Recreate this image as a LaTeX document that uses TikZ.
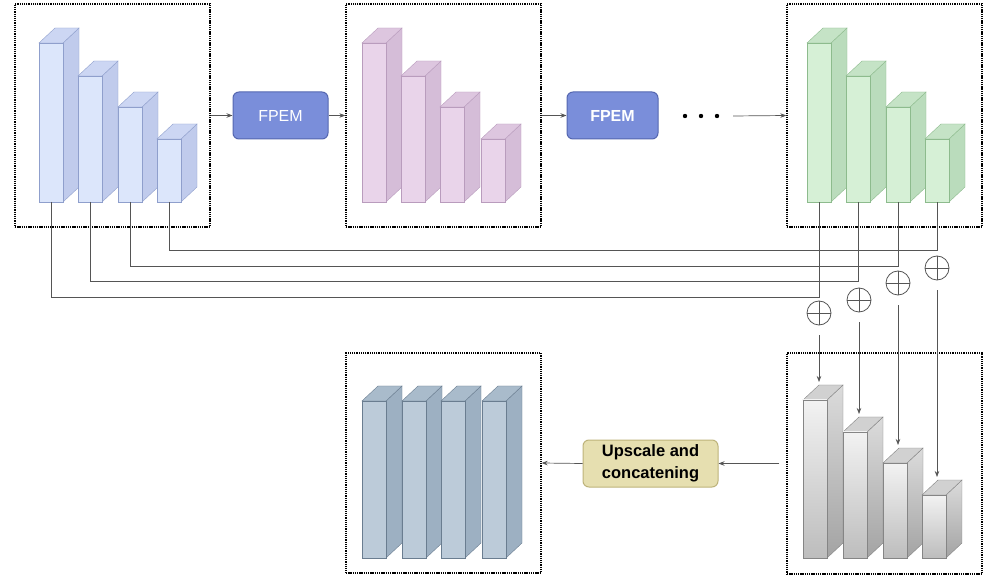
\documentclass[tikz,border=0pt]{standalone}
\usepackage{fontspec}
\setmainfont{Liberation Sans}
\usetikzlibrary{arrows.meta}

\definecolor{bluefront}{HTML}{DCE6FB}
\definecolor{bluetop}{HTML}{CCD6F3}
\definecolor{blueside}{HTML}{C0CBEC}
\definecolor{blueedge}{HTML}{8F9FCC}
\definecolor{pinkfront}{HTML}{E9D4EA}
\definecolor{pinktop}{HTML}{DDC6DF}
\definecolor{pinkside}{HTML}{D5BDD8}
\definecolor{pinkedge}{HTML}{B99CBD}
\definecolor{greenfront}{HTML}{D6F0D6}
\definecolor{greentop}{HTML}{C5E3C6}
\definecolor{greenside}{HTML}{BADCBC}
\definecolor{greenedge}{HTML}{8DBB8D}
\definecolor{steelfront}{HTML}{BCCBD9}
\definecolor{steeltop}{HTML}{A9BBCB}
\definecolor{steelside}{HTML}{9DB0C2}
\definecolor{steeledge}{HTML}{6A7D90}
\definecolor{grayedge}{HTML}{858585}
\definecolor{fpemfill}{HTML}{7A8EDA}
\definecolor{fpemedge}{HTML}{5567B0}
\definecolor{upfill}{HTML}{E6DFB0}
\definecolor{upedge}{HTML}{BDB37A}
\definecolor{wire}{HTML}{555555}

% one 3-D bar: #1 name, #2 left x, #3 top y, #4 bottom y,
% #5 front style, #6 side style, #7 top style, #8 edge colour
\newcommand\prism[8]{%
  \draw[draw=#8,#6] (#2+24,#3) -- (#2+40,#3-15) -- (#2+40,#4-15) -- (#2+24,#4) -- cycle;
  \draw[draw=#8,#7] (#2,#3) -- (#2+16,#3-15) -- (#2+40,#3-15) -- (#2+24,#3) -- cycle;
  \draw[draw=#8,#5] (#2,#3) rectangle (#2+24,#4);
  \coordinate (#1-b) at (#2+12,#4);
  \coordinate (#1-t) at (#2+16,#3-18);
}

\tikzset{
  dbox/.style={draw=black, line width=1.3pt, dash pattern=on 1.3pt off 0.9pt,
               minimum width=195pt, inner sep=0pt},
  block/.style={rounded corners=6pt, line width=1pt, inner sep=0pt, align=center},
  arr/.style={draw=wire, line width=0.7pt, -{Stealth[length=6pt,width=4.5pt]}},
  conn/.style={draw=wire, line width=0.8pt},
  plus/.style={circle, draw=wire, line width=0.8pt, minimum size=24pt, inner sep=0pt},
  grayfront/.style={top color=black!5, bottom color=black!26},
  grayside/.style={top color=black!14, bottom color=black!36},
}

\begin{document}
\begin{tikzpicture}[x=1pt,y=-1pt]
\useasboundingbox (0,0) rectangle (986,577);

% dotted frames
\node[dbox, minimum height=223pt] (B1) at (112.5,115.5) {};
\node[dbox, minimum height=223pt] (B2) at (443.5,115.5) {};
\node[dbox, minimum height=223pt] (B3) at (884.5,115.5) {};
\node[dbox, minimum height=221pt] (B4) at (884.5,463.5) {};
\node[dbox, minimum height=220pt] (B5) at (443.5,463) {};

% input pyramid
\prism{a1}{39}{43}{202}{fill=bluefront}{fill=blueside}{fill=bluetop}{blueedge}
\prism{a2}{78}{76}{202}{fill=bluefront}{fill=blueside}{fill=bluetop}{blueedge}
\prism{a3}{118}{107}{202}{fill=bluefront}{fill=blueside}{fill=bluetop}{blueedge}
\prism{a4}{157}{139}{202}{fill=bluefront}{fill=blueside}{fill=bluetop}{blueedge}

% after first FPEM
\prism{m1}{362}{43}{202}{fill=pinkfront}{fill=pinkside}{fill=pinktop}{pinkedge}
\prism{m2}{401}{76}{202}{fill=pinkfront}{fill=pinkside}{fill=pinktop}{pinkedge}
\prism{m3}{440}{107}{202}{fill=pinkfront}{fill=pinkside}{fill=pinktop}{pinkedge}
\prism{m4}{481}{139}{202}{fill=pinkfront}{fill=pinkside}{fill=pinktop}{pinkedge}

% after last FPEM
\prism{c1}{807}{43}{202}{fill=greenfront}{fill=greenside}{fill=greentop}{greenedge}
\prism{c2}{846}{76}{202}{fill=greenfront}{fill=greenside}{fill=greentop}{greenedge}
\prism{c3}{886}{107}{202}{fill=greenfront}{fill=greenside}{fill=greentop}{greenedge}
\prism{c4}{925}{139}{202}{fill=greenfront}{fill=greenside}{fill=greentop}{greenedge}

% fused pyramid
\prism{g1}{803}{400}{558}{grayfront}{grayside}{fill=black!18}{grayedge}
\prism{g2}{843}{432}{558}{grayfront}{grayside}{fill=black!18}{grayedge}
\prism{g3}{883}{463}{558}{grayfront}{grayside}{fill=black!18}{grayedge}
\prism{g4}{922}{495}{558}{grayfront}{grayside}{fill=black!18}{grayedge}

% concatenated maps
\prism{s1}{362}{401}{558}{fill=steelfront}{fill=steelside}{fill=steeltop}{steeledge}
\prism{s2}{402}{401}{558}{fill=steelfront}{fill=steelside}{fill=steeltop}{steeledge}
\prism{s3}{441}{401}{558}{fill=steelfront}{fill=steelside}{fill=steeltop}{steeledge}
\prism{s4}{482}{401}{558}{fill=steelfront}{fill=steelside}{fill=steeltop}{steeledge}

% blocks
\node[block, draw=fpemedge, fill=fpemfill, text=white, minimum width=95pt, minimum height=47pt,
      font=\fontsize{16}{18}\selectfont] (F1) at (280.5,115.5) {FPEM};
\node[block, draw=fpemedge, fill=fpemfill, text=white, minimum width=91pt, minimum height=47pt,
      font=\bfseries\fontsize{16}{18}\selectfont] (F2) at (612.5,115.5) {FPEM};
\node[block, draw=upedge, fill=upfill, minimum width=135pt, minimum height=47pt,
      font=\bfseries\fontsize{16.5}{22}\selectfont] (U) at (650.5,463.5) {Upscale and\\concatening};

% main flow
\draw[arr] (B1.east) -- (F1.west);
\draw[arr] (F1.east) -- (B2.west);
\draw[arr] (B2.east) -- (F2.west);
\foreach \i/\xx in {1/685,2/701,3/717}
  \fill[black] (\xx,116) circle (2.2pt) coordinate (dot\i);
\coordinate (go) at (733,116);
\draw[arr] (go) -- (B3.west);

% lateral links
\draw[conn] (a4-b) -- (a4-b |- 0,250) -| (c4-b);
\draw[conn] (a3-b) -- (a3-b |- 0,266) -| (c3-b);
\draw[conn] (a2-b) -- (a2-b |- 0,281) -| (c2-b);
\draw[conn] (a1-b) -- (a1-b |- 0,297) -| (c1-b);

% element-wise additions
\node[plus] (p1) at (819,313) {};
\node[plus] (p2) at (859,300) {};
\node[plus] (p3) at (898,283) {};
\node[plus] (p4) at (937,268) {};
\foreach \p in {p1,p2,p3,p4}
  \draw[conn] (\p.north) -- (\p.south) (\p.west) -- (\p.east);
\draw[arr, shorten <=10pt] (p1.south) -- (p1.south |- g1-t);
\draw[arr, shorten <=10pt] (p2.south) -- (p2.south |- g2-t);
\draw[arr, shorten <=10pt] (p3.south) -- (p3.south |- g3-t);
\draw[arr, shorten <=10pt] (p4.south) -- (p4.south |- g4-t);

% output flow
\draw[arr, shorten <=7pt] (B4.west) -- (U.east);
\draw[arr] (U.west) -- (B5.east);
\end{tikzpicture}
\end{document}
